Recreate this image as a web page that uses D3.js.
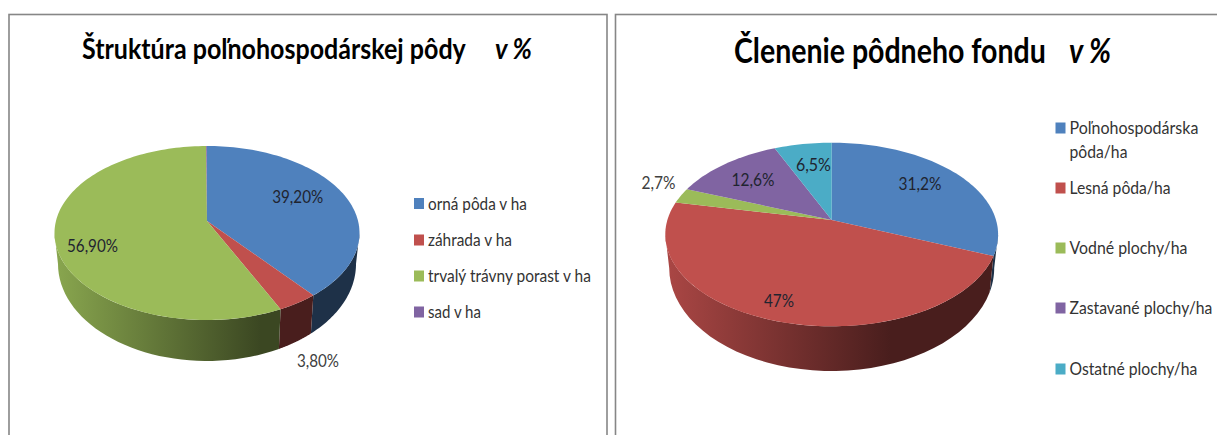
<!DOCTYPE html>
<html>
<head>
<meta charset="utf-8">
<script src="https://d3js.org/d3.v7.min.js"></script>
<style>
  html, body { margin: 0; padding: 0; background: #fff; overflow: hidden; }
  text { font-family: Lato, "Open Sans", sans-serif; }
</style>
</head>
<body>
<svg id="chart" width="1217" height="435"></svg>
<script>
// data
var soilCategories = ["orná pôda v ha", "záhrada v ha", "trvalý trávny porast v ha", "sad v ha"];
var soilValues = [39.2, 3.8, 56.9, 0.1];
var soilLabels = ["39,20%", "3,80%", "56,90%", null];

var fundCategories = [["Poľnohospodárska", "pôda/ha"], ["Lesná pôda/ha"], ["Vodné plochy/ha"], ["Zastavané plochy/ha"], ["Ostatné plochy/ha"]];
var fundValues = [31.2, 47, 2.7, 12.6, 6.5];
var fundLabels = ["31,2%", "47%", "2,7%", "12,6%", "6,5%"];

var colors = ["#4f81bd", "#c0504d", "#9bbb59", "#8064a2", "#4bacc6"];

var svg = d3.select("#chart");
var defs = svg.append("defs");
var chartId = 0;

// frames
svg.append("rect").attr("x", 9).attr("y", 14.5).attr("width", 598).attr("height", 440)
  .attr("fill", "#fff").attr("stroke", "#868686").attr("stroke-width", 1.6);
svg.append("rect").attr("x", 615.5).attr("y", 14.5).attr("width", 640).attr("height", 440)
  .attr("fill", "#fff").attr("stroke", "#868686").attr("stroke-width", 1.6);

// squeeze a text sideways so that it takes w pixels (reference font is narrow and tall)
function fitText(sel, x, y, w) {
  var k = w / sel.node().getComputedTextLength();
  sel.attr("transform", "translate(" + x + "," + y + ") scale(" + k + ",1)");
}

// draws one tilted pie with a perspective shift of the centre
function drawPie(cfg) {
  chartId++;
  var g = svg.append("g");
  var tau = 2 * Math.PI;
  var pie = d3.pie().sort(null).startAngle(0).endAngle(tau);
  var arcs = pie(cfg.values);

  // angle on the flat pie -> angle on the drawn ellipse (disk automorphism moves the centre up)
  function warp(theta) {
    var zx = Math.sin(theta), zy = -Math.cos(theta);
    var a = -cfg.shift;
    var nx = zx, ny = zy + a;
    var dx = 1 + a * zy, dy = -a * zx;
    var d = dx * dx + dy * dy;
    var x = (nx * dx + ny * dy) / d, y = (ny * dx - nx * dy) / d;
    return Math.atan2(x, -y);
  }
  function unwrapAngle(theta) {
    var p = warp(theta);
    var turn = Math.round((theta - p) / tau);
    return p + turn * tau;
  }
  function onEllipse(e, p) {
    return [e.cx + e.rx * Math.sin(p), e.cy - e.ry * Math.cos(p)];
  }
  var line = d3.line();

  // side wall, only the front half of the ellipse shows
  var color = d3.scaleOrdinal().domain(d3.range(colors.length)).range(colors);
  arcs.forEach(function (d, i) {
    var p0 = Math.max(unwrapAngle(d.startAngle), Math.PI / 2);
    var p1 = Math.min(unwrapAngle(d.endAngle), Math.PI * 3 / 2);
    if (p1 <= p0) return;
    var id = "side" + chartId + "-" + i;
    var fade = d3.interpolateRgb(color(i), "#000");
    var grad = defs.append("linearGradient").attr("id", id)
      .attr("gradientUnits", "userSpaceOnUse")
      .attr("x1", cfg.bottom.cx - cfg.bottom.rx).attr("x2", cfg.bottom.cx + cfg.bottom.rx)
      .attr("y1", 0).attr("y2", 0);
    grad.append("stop").attr("offset", 0).attr("stop-color", fade(0.12));
    grad.append("stop").attr("offset", 0.68).attr("stop-color", fade(0.62));
    grad.append("stop").attr("offset", 1).attr("stop-color", fade(0.62));
    var steps = d3.range(0, 41).map(function (k) { return p0 + (p1 - p0) * k / 40; });
    var pts = steps.map(function (p) { return onEllipse(cfg.top, p); })
      .concat(steps.slice().reverse().map(function (p) { return onEllipse(cfg.bottom, p); }));
    g.append("path").attr("d", line(pts) + "Z").attr("fill", "url(#" + id + ")");
  });

  // top face
  var apex = [cfg.top.cx, cfg.top.cy - cfg.top.ry * 2 * cfg.shift / (1 + cfg.shift * cfg.shift)];
  arcs.forEach(function (d, i) {
    var p0 = unwrapAngle(d.startAngle), p1 = unwrapAngle(d.endAngle);
    var n = Math.max(2, Math.ceil((p1 - p0) * 40));
    var pts = [apex].concat(d3.range(0, n + 1).map(function (k) {
      return onEllipse(cfg.top, p0 + (p1 - p0) * k / n);
    }));
    g.append("path").attr("d", line(pts) + "Z").attr("fill", color(i));
  });

  // data labels
  cfg.labels.forEach(function (t, i) {
    if (!t) return;
    var pos = cfg.labelPos[i];
    var lab = g.append("text").attr("dy", "0.35em")
      .attr("font-size", cfg.labelSize)
      .attr("fill", pos[3] ? "#404040" : "#1f2430")
      .text(t);
    fitText(lab, pos[0] - pos[2] / 2, pos[1], pos[2]);
  });

  // legend
  cfg.categories.forEach(function (lines, i) {
    var leg = cfg.legend[i];
    g.append("rect").attr("x", cfg.legendX).attr("y", leg[0] - 5.5)
      .attr("width", 10).attr("height", 11).attr("fill", color(i));
    [].concat(lines).forEach(function (t, k) {
      var lab = g.append("text").attr("dy", "0.35em")
        .attr("font-size", cfg.legendSize).attr("fill", "#333")
        .text(t);
      fitText(lab, cfg.legendX + 14, leg[0] + k * 24, leg[1 + k]);
    });
  });

  // title
  var t1 = g.append("text")
    .attr("font-size", cfg.title.size).attr("font-weight", 700).attr("fill", "#000")
    .text(cfg.title.text);
  fitText(t1, cfg.title.x, cfg.title.y, cfg.title.w);
  var t2 = g.append("text")
    .attr("font-size", cfg.title.size).attr("font-weight", 700).attr("font-style", "italic").attr("fill", "#000")
    .text("v %");
  fitText(t2, cfg.title.x2, cfg.title.y, cfg.title.w2);
}

drawPie({
  values: soilValues,
  labels: soilLabels,
  categories: soilCategories,
  shift: 0.07,
  top: { cx: 207, cy: 233, rx: 152.5, ry: 87 },
  bottom: { cx: 207, cy: 264, rx: 149, ry: 97 },
  labelSize: 18,
  labelPos: [[297.7, 197, 51], [318, 360.5, 42, true], [92.5, 245.5, 51]],
  legendX: 414,
  legendSize: 18,
  legend: [[203.5, 99], [240, 84], [276, 163], [312, 53]],
  title: { text: "Štruktúra poľnohospodárskej pôdy", x: 82, y: 59, size: 29, w: 384, x2: 495, w2: 37 }
});

drawPie({
  values: fundValues,
  labels: fundLabels,
  categories: fundCategories,
  shift: 0.08,
  top: { cx: 831.7, cy: 234.5, rx: 166.4, ry: 91.8 },
  bottom: { cx: 831.7, cy: 268, rx: 162.5, ry: 103 },
  labelSize: 18,
  labelPos: [[920, 184, 43], [779, 301, 30], [658.5, 183, 34, true], [753, 179.5, 43], [813.4, 165, 35]],
  legendX: 1055.5,
  legendSize: 18,
  legend: [[128, 129, 58], [188, 101], [248, 118], [308, 143], [369, 128]],
  title: { text: "Členenie pôdneho fondu", x: 734, y: 62.5, size: 34, w: 312, x2: 1069, w2: 42 }
});
</script>
</body>
</html>
